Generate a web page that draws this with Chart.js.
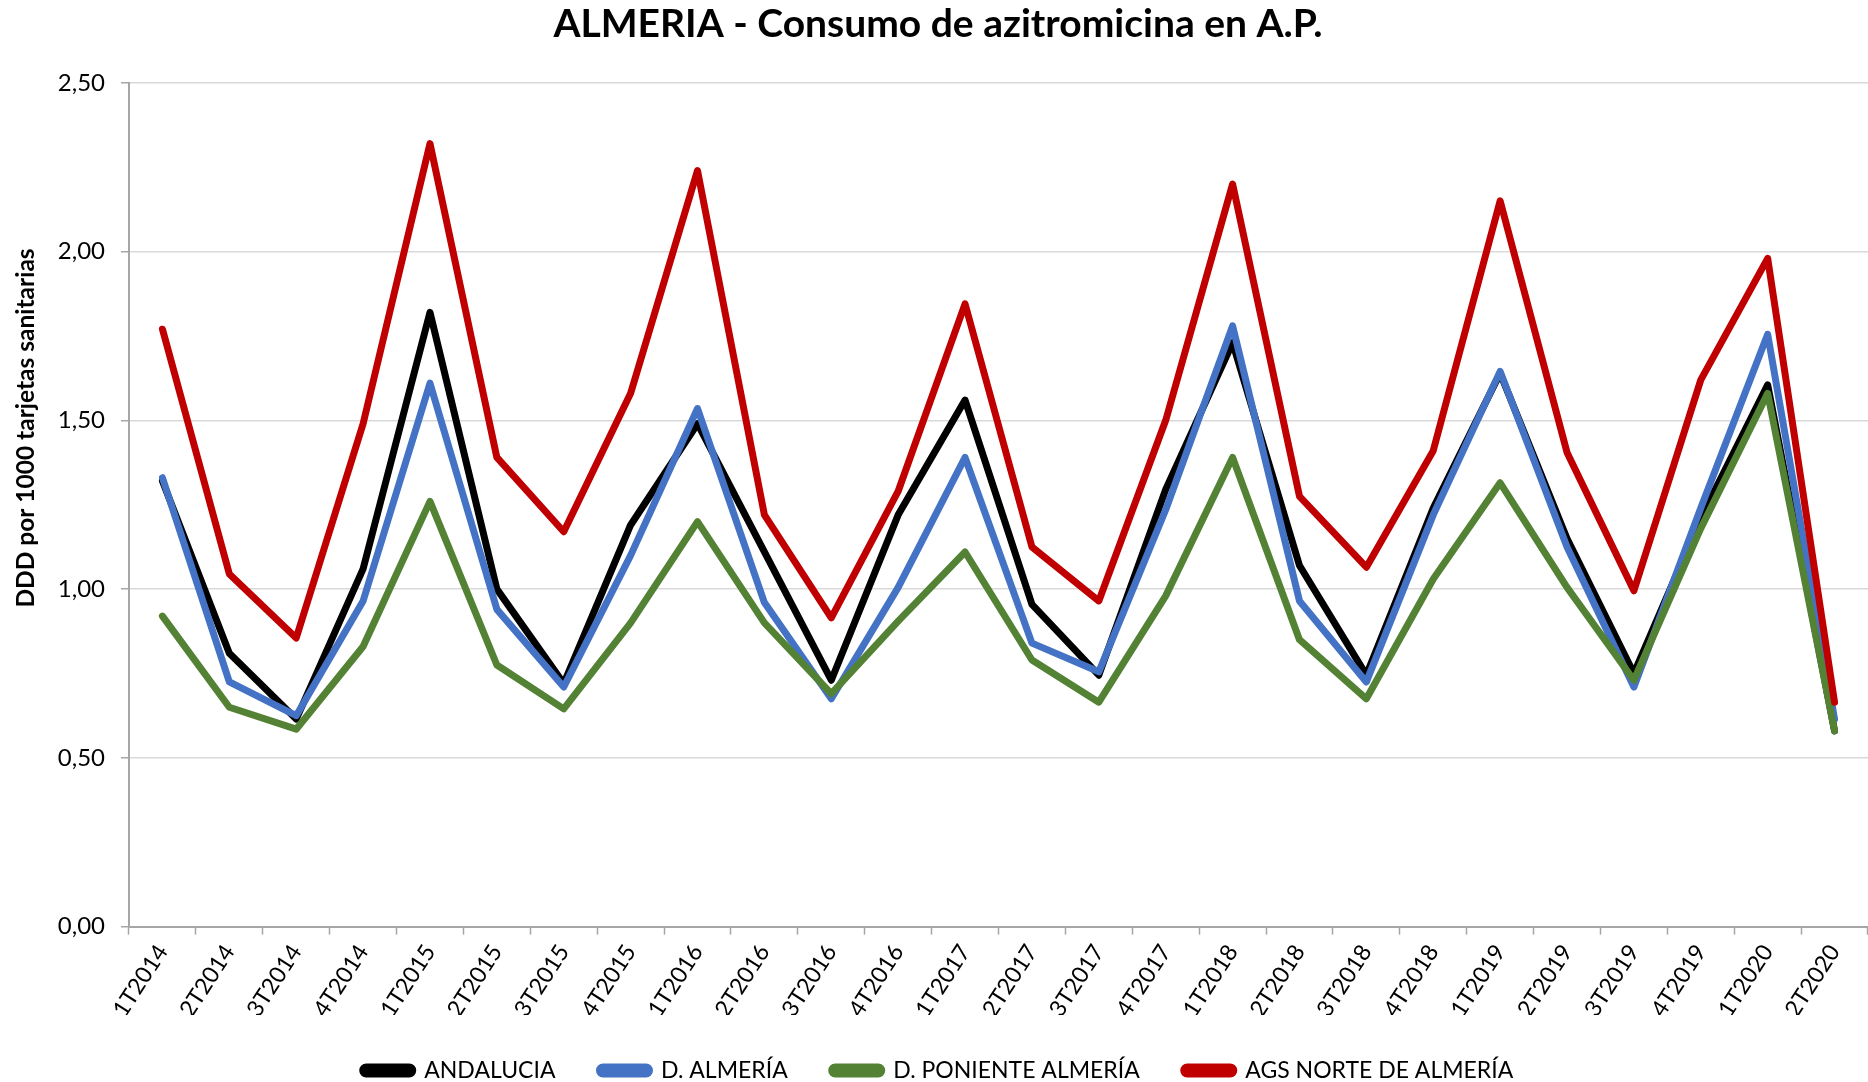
<!DOCTYPE html>
<html>
<head>
<meta charset="utf-8">
<script src="https://cdn.jsdelivr.net/npm/chart.js@4.4.0/dist/chart.umd.min.js"></script>
<style>
    body { margin: 0; background: #ffffff; }
    #wrap { width: 1868px; height: 1082px; }
</style>
</head>
<body>
<div id="wrap"><canvas id="myChart"></canvas></div>
<script>
const chartTitle = 'ALMERIA - Consumo de azitromicina en A.P.';
const yAxisTitle = 'DDD por 1000 tarjetas sanitarias';

const quarters = [
    '1T2014', '2T2014', '3T2014', '4T2014',
    '1T2015', '2T2015', '3T2015', '4T2015',
    '1T2016', '2T2016', '3T2016', '4T2016',
    '1T2017', '2T2017', '3T2017', '4T2017',
    '1T2018', '2T2018', '3T2018', '4T2018',
    '1T2019', '2T2019', '3T2019', '4T2019',
    '1T2020', '2T2020'
];

const andalucia = [1.32, 0.81, 0.615, 1.06, 1.82, 1.00, 0.72, 1.19, 1.49, 1.11, 0.73, 1.22, 1.56, 0.955, 0.745, 1.295, 1.73, 1.07, 0.745, 1.24, 1.64, 1.15, 0.75, 1.21, 1.605, 0.58];
const dAlmeria = [1.33, 0.725, 0.625, 0.965, 1.61, 0.94, 0.71, 1.10, 1.535, 0.96, 0.675, 1.005, 1.39, 0.84, 0.755, 1.235, 1.78, 0.965, 0.725, 1.22, 1.645, 1.125, 0.71, 1.24, 1.755, 0.615];
const dPoniente = [0.92, 0.65, 0.585, 0.83, 1.26, 0.775, 0.645, 0.90, 1.20, 0.90, 0.69, 0.905, 1.11, 0.79, 0.665, 0.98, 1.39, 0.85, 0.675, 1.03, 1.315, 1.005, 0.73, 1.18, 1.58, 0.58];
const agsNorte = [1.77, 1.045, 0.855, 1.49, 2.32, 1.39, 1.17, 1.58, 2.24, 1.22, 0.915, 1.29, 1.845, 1.125, 0.965, 1.50, 2.20, 1.275, 1.065, 1.41, 2.15, 1.405, 0.995, 1.62, 1.98, 0.665];

const seriesNames = ['ANDALUCIA', 'D. ALMERÍA', 'D. PONIENTE ALMERÍA', 'AGS NORTE DE ALMERÍA'];
const seriesColors = ['#000000', '#4472C4', '#548235', '#C00000'];
const seriesValues = [andalucia, dAlmeria, dPoniente, agsNorte];
// black at the bottom, red on top
const drawOrder = [4, 3, 2, 1];

const fontFamily = 'Lato, "Open Sans", sans-serif';

const datasets = seriesNames.map(function (name, i) {
    return {
        label: name,
        data: seriesValues[i],
        borderColor: seriesColors[i],
        backgroundColor: seriesColors[i],
        borderWidth: 7,
        borderJoinStyle: 'round',
        borderCapStyle: 'round',
        pointRadius: 0,
        pointHoverRadius: 0,
        tension: 0,
        order: drawOrder[i]
    };
});

// rotated y axis title, sits a bit above the middle like the original
const yTitlePlugin = {
    id: 'yTitlePlugin',
    afterDraw(chart) {
        const ctx = chart.ctx;
        ctx.save();
        ctx.translate(26, 428);
        ctx.rotate(-Math.PI / 2);
        ctx.font = 'bold 24.5px ' + fontFamily;
        ctx.fillStyle = '#000000';
        ctx.textAlign = 'center';
        ctx.textBaseline = 'middle';
        ctx.fillText(yAxisTitle, 0, 0);
        ctx.restore();
    }
};

const config = {
    type: 'line',
    data: {
        labels: quarters,
        datasets: datasets
    },
    options: {
        responsive: true,
        maintainAspectRatio: false,
        animation: false,
        events: [],
        layout: {
            padding: { left: 0, right: -8, top: 0, bottom: -10 }
        },
        plugins: {
            title: {
                display: true,
                text: chartTitle,
                color: '#000000',
                font: { family: fontFamily, size: 39, weight: 'bold' },
                padding: { top: 1, bottom: 35 }
            },
            legend: {
                position: 'bottom',
                labels: {
                    color: '#000000',
                    font: { family: fontFamily, size: 23 },
                    boxWidth: 50,
                    boxHeight: 7,
                    useBorderRadius: true,
                    borderRadius: 3.5,
                    padding: 44,
                    sort: function (a, b) { return a.datasetIndex - b.datasetIndex; }
                }
            },
            tooltip: { enabled: false }
        },
        scales: {
            x: {
                offset: true,
                // labels may run into the empty top padding of the legend
                afterFit: function (scale) { scale.height -= 12; },
                grid: {
                    display: true,
                    offset: true,
                    drawOnChartArea: false,
                    drawTicks: true,
                    tickLength: 8,
                    tickColor: '#a6a6a6',
                    tickWidth: 1.5
                },
                border: { display: true, color: '#a6a6a6', width: 2 },
                ticks: {
                    color: '#000000',
                    font: { family: fontFamily, size: 23 },
                    minRotation: 57,
                    maxRotation: 57,
                    autoSkip: false,
                    padding: 5
                }
            },
            y: {
                min: 0,
                max: 2.5,
                afterFit: function (scale) { scale.width = 129; },
                grid: {
                    color: '#d9d9d9',
                    lineWidth: 1.5,
                    tickLength: 8,
                    tickColor: '#a6a6a6'
                },
                border: { display: true, color: '#a6a6a6', width: 2 },
                ticks: {
                    stepSize: 0.5,
                    color: '#000000',
                    font: { family: fontFamily, size: 24 },
                    padding: 16,
                    callback: function (value) { return value.toFixed(2).replace('.', ','); }
                }
            }
        }
    },
    plugins: [yTitlePlugin]
};

const myChart = new Chart(document.getElementById('myChart'), config);
</script>
</body>
</html>
